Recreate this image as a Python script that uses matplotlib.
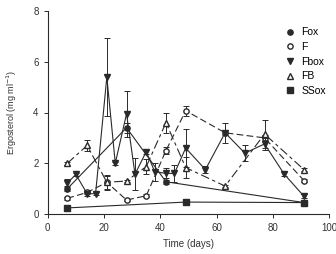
import matplotlib
matplotlib.use("Agg")
import matplotlib.pyplot as plt

plt.rcParams['font.family'] = ['Liberation Sans', 'DejaVu Sans']

# Fox (filled circle, solid)
fox_x = [7, 28, 42, 91]
fox_y = [1.0, 3.4, 1.27, 0.45]
fox_e = [0.1, 0.2, 0.08, 0.05]

# F (open circle, dashed)
f_x = [7, 14, 21, 28, 35, 42, 49, 63, 77, 91]
f_y = [0.62, 0.85, 1.25, 0.55, 0.72, 2.5, 4.07, 3.2, 3.0, 1.32]
f_e = [0.05, 0.08, 0.25, 0.05, 0.05, 0.15, 0.2, 0.1, 0.1, 0.05]

# Fbox (filled down triangle, solid)
fbox_x = [7, 10, 14, 17, 21, 24, 28, 31, 35, 38, 42, 45, 49, 56, 63, 70, 77, 84, 91]
fbox_y = [1.22, 1.56, 0.8, 0.8, 5.4, 2.0, 3.95, 1.57, 2.46, 1.67, 1.6, 1.6, 2.6, 1.75, 3.2, 2.4, 2.76, 1.57, 0.7]
fbox_e = [0.15, 0.05, 0.1, 0.05, 1.55, 0.05, 0.9, 0.62, 0.08, 0.35, 0.2, 0.35, 0.75, 0.15, 0.4, 0.3, 0.25, 0.08, 0.08]

# FB (open up triangle, dashed)
fb_x = [7, 14, 21, 28, 35, 42, 49, 63, 77, 91]
fb_y = [2.0, 2.7, 1.25, 1.3, 1.87, 3.6, 1.83, 1.1, 3.15, 1.75]
fb_e = [0.05, 0.2, 0.3, 0.05, 0.3, 0.4, 0.4, 0.05, 0.55, 0.05]

# SSox (filled square, solid)
ss_x = [7, 49, 91]
ss_y = [0.24, 0.47, 0.45]
ss_e = [0.03, 0.03, 0.03]

fig = plt.figure(figsize=(3.36, 2.54), dpi=100)
ax = fig.add_axes([47.7/336, 1-214/254, (329.3-47.7)/336, (214-11)/254])

col = '#2a2a2a'
kw = dict(color=col, lw=0.8, capsize=2.2, elinewidth=0.7, capthick=0.7, markersize=3.8)
ax.errorbar(fox_x, fox_y, yerr=fox_e, fmt='-o', mfc=col, mec=col, label='Fox', zorder=5, **kw)
ax.errorbar(f_x, f_y, yerr=f_e, fmt='o', mfc='white', mec=col, label='F', zorder=4, **kw)
ax.errorbar(fbox_x, fbox_y, yerr=fbox_e, fmt='-v', mfc=col, mec=col, label='Fbox', zorder=6, **kw)
ax.errorbar(fb_x, fb_y, yerr=fb_e, fmt='^', mfc='white', mec=col, label='FB', zorder=4, **kw)
ax.errorbar(ss_x, ss_y, yerr=ss_e, fmt='-s', mfc=col, mec=col, label='SSox', zorder=5, **kw)

# dashed connecting lines for F and FB
ax.plot(f_x, f_y, color=col, lw=0.8, ls=(0, (6, 3)), zorder=3)
ax.plot(fb_x, fb_y, color=col, lw=0.8, ls=(0, (8, 3, 3, 3)), zorder=3)

ax.set_xlim(0, 100)
ax.set_ylim(0, 8)
ax.set_xticks([0, 20, 40, 60, 80, 100])
ax.set_yticks([0, 2, 4, 6, 8])
ax.spines['top'].set_visible(False)
ax.spines['right'].set_visible(False)
for s in ['left', 'bottom']:
    ax.spines[s].set_linewidth(0.8)
    ax.spines[s].set_color(col)
ax.tick_params(labelsize=7, length=3, width=0.7, colors=col, labelcolor='#333333')
ax.set_xlabel('Time (days)', fontsize=7, color='#333333', labelpad=4)
ax.set_ylabel('Ergosterol (mg ml$^{-1}$)', fontsize=6.5, color='#333333', labelpad=10)

h, l = ax.get_legend_handles_labels()
h = [x[0] for x in h]
leg = ax.legend(h, l, loc='upper left', bbox_to_anchor=(0.83, 0.94), frameon=False,
                fontsize=7.5, handlelength=0.8, handletextpad=0.7, labelspacing=0.45,
                borderaxespad=0)
for lh in leg.legend_handles:
    lh.set_linestyle('none')

fig.savefig('out.png', dpi=100)
